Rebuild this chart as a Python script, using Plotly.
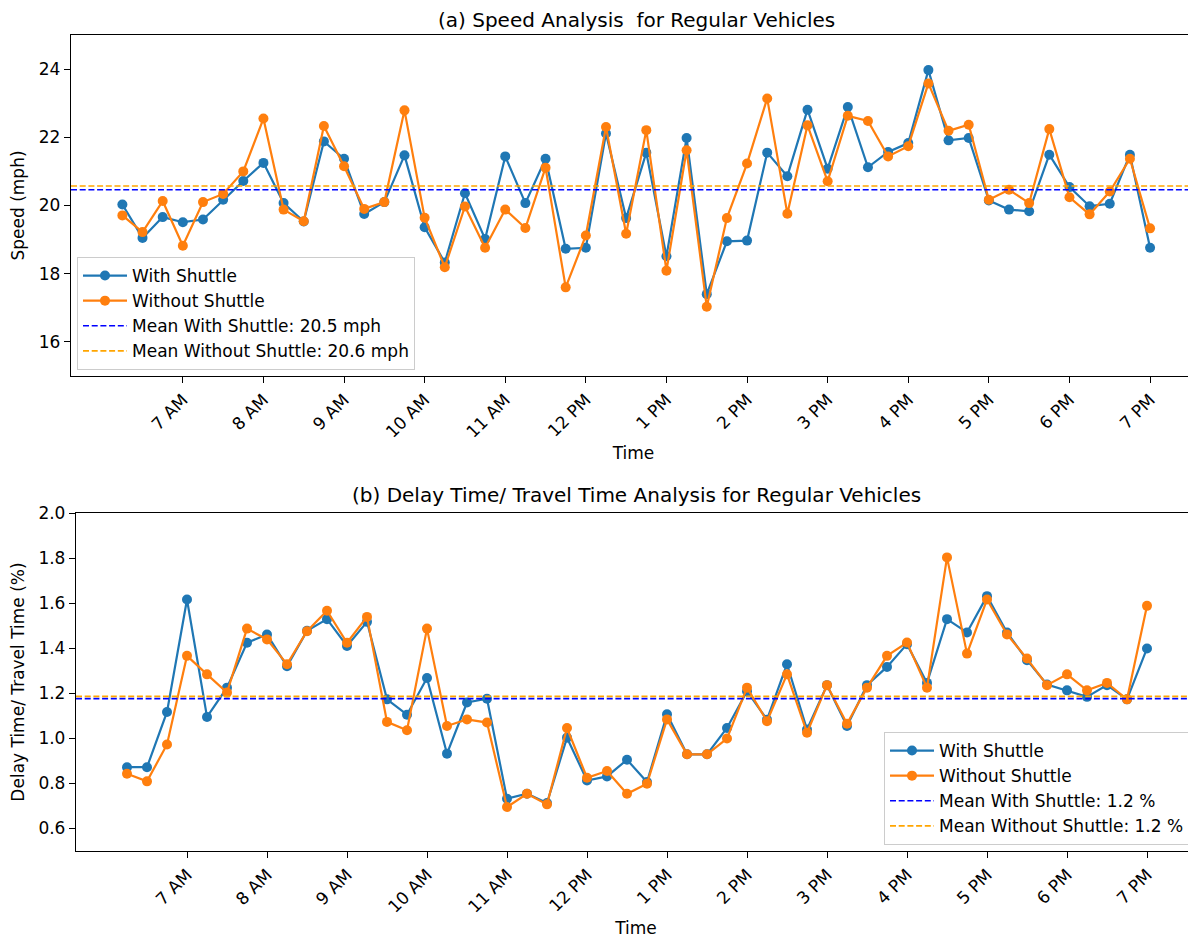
import pandas as pd
import plotly.graph_objects as go

# 15-minute intervals, 6:15 AM to 7 PM
times = pd.date_range("2024-01-01 06:15", "2024-01-01 19:00", freq="15min")
tick_times = pd.date_range("2024-01-01 07:00", "2024-01-01 19:00", freq="1h")
tick_labels = ["7 AM", "8 AM", "9 AM", "10 AM", "11 AM", "12 PM", "1 PM",
               "2 PM", "3 PM", "4 PM", "5 PM", "6 PM", "7 PM"]

speed_with = [
    20.03, 19.05, 19.66, 19.51, 19.59, 20.17, 20.72, 21.25, 20.07, 19.53,
    21.88, 21.37, 19.75, 20.10, 21.47, 19.36, 18.33, 20.36, 19.02, 21.44,
    20.07, 21.37, 18.73, 18.76, 22.11, 19.63, 21.55, 18.51, 21.98, 17.40,
    18.95, 18.97, 21.55, 20.86, 22.81, 21.08, 22.89, 21.12, 21.57, 21.83,
    23.97, 21.91, 21.98, 20.15, 19.88, 19.83, 21.49, 20.54, 19.98, 20.05,
    21.49, 18.76,
]
speed_without = [
    19.71, 19.22, 20.13, 18.82, 20.10, 20.34, 21.00, 22.55, 19.88, 19.54,
    22.33, 21.15, 19.90, 20.10, 22.79, 19.64, 18.19, 19.97, 18.76, 19.88,
    19.34, 21.11, 17.60, 19.12, 22.30, 19.17, 22.21, 18.09, 21.62, 17.03,
    19.63, 21.23, 23.14, 19.76, 22.35, 20.71, 22.63, 22.48, 21.44, 21.74,
    23.58, 22.19, 22.37, 20.17, 20.46, 20.07, 22.24, 20.24, 19.74, 20.41,
    21.37, 19.33,
]
delay_with = [
    0.872, 0.872, 1.117, 1.616, 1.095, 1.225, 1.424, 1.461, 1.320, 1.477,
    1.529, 1.410, 1.517, 1.173, 1.105, 1.268, 0.932, 1.159, 1.176, 0.732,
    0.754, 0.713, 1.003, 0.813, 0.831, 0.905, 0.806, 1.107, 0.929, 0.929,
    1.046, 1.209, 1.083, 1.329, 1.039, 1.236, 1.055, 1.236, 1.317, 1.418,
    1.246, 1.529, 1.470, 1.631, 1.470, 1.347, 1.239, 1.213, 1.184, 1.236,
    1.173, 1.399,
]
delay_without = [
    0.843, 0.809, 0.973, 1.366, 1.284, 1.203, 1.487, 1.439, 1.329, 1.475,
    1.566, 1.424, 1.539, 1.073, 1.036, 1.487, 1.055, 1.084, 1.070, 0.695,
    0.754, 0.707, 1.046, 0.825, 0.855, 0.754, 0.799, 1.084, 0.929, 0.929,
    0.999, 1.225, 1.076, 1.284, 1.025, 1.236, 1.065, 1.225, 1.366, 1.425,
    1.225, 1.803, 1.376, 1.616, 1.461, 1.354, 1.236, 1.284, 1.213, 1.246,
    1.173, 1.588,
]

# mean lines (with, without)
speed_means = [20.46, 20.57]
delay_means = [1.176, 1.186]

W, H = 1196, 940
OFF = 8  # page body margin of the html page
BLUE = "#1f77b4"
ORANGE = "#ff7f0e"
FONT = "DejaVu Sans"
FS = 17


def fx(px):
    return (px - OFF) / W


def fy(py):
    return 1 - (py - OFF) / H


top_range = ["2024-01-01 05:36:45", "2024-01-01 19:34:12"]
bot_range = ["2024-01-01 05:36:45", "2024-01-01 19:36:45"]

fig = go.Figure()

panels = [
    dict(xa="x", ya="y", legend="legend", xr=top_range, means=speed_means,
         with_=speed_with, without=speed_without, unit="mph"),
    dict(xa="x2", ya="y2", legend="legend2", xr=bot_range, means=delay_means,
         with_=delay_with, without=delay_without, unit="%"),
]

for p in panels:
    fig.add_trace(go.Scatter(
        x=times, y=p["with_"], name="With Shuttle", mode="lines+markers",
        line=dict(color=BLUE, width=2.2), marker=dict(size=10, color=BLUE),
        xaxis=p["xa"], yaxis=p["ya"], legend=p["legend"],
    ))
    fig.add_trace(go.Scatter(
        x=times, y=p["without"], name="Without Shuttle", mode="lines+markers",
        line=dict(color=ORANGE, width=2.2), marker=dict(size=10, color=ORANGE),
        xaxis=p["xa"], yaxis=p["ya"], legend=p["legend"],
    ))
    m_with, m_without = p["means"]
    fig.add_trace(go.Scatter(
        x=p["xr"], y=[m_with, m_with], mode="lines",
        name=f"Mean With Shuttle: {m_with:.1f} {p['unit']}",
        line=dict(color="#0000ff", width=1.6, dash="6px,2.7px"),
        xaxis=p["xa"], yaxis=p["ya"], legend=p["legend"],
    ))
    fig.add_trace(go.Scatter(
        x=p["xr"], y=[m_without, m_without], mode="lines",
        name=f"Mean Without Shuttle: {m_without:.1f} {p['unit']}",
        line=dict(color="#ffa500", width=1.6, dash="6px,2.7px"),
        xaxis=p["xa"], yaxis=p["ya"], legend=p["legend"],
    ))

axis_common = dict(
    showline=True, mirror=True, linecolor="black", linewidth=1.3,
    ticks="outside", ticklen=6, tickwidth=1.3, tickcolor="black",
    showgrid=False, zeroline=False, automargin=False,
    tickfont=dict(size=FS, color="black"),
)

legend_common = dict(
    bgcolor="rgba(255,255,255,0.8)", bordercolor="#cccccc", borderwidth=1,
    font=dict(size=FS), itemwidth=44,
)

fig.update_layout(
    width=W, height=H,
    margin=dict(l=0, r=0, t=0, b=0),
    paper_bgcolor="white", plot_bgcolor="white",
    font=dict(family=FONT, size=FS, color="black"),
    xaxis=dict(
        domain=[fx(71), fx(1196)], range=top_range, anchor="y",
        tickvals=tick_times, ticktext=tick_labels, tickangle=-45,
        title=dict(text="Time", standoff=6, font=dict(size=FS)), **axis_common,
    ),
    yaxis=dict(
        domain=[fy(376), fy(35)], range=[15, 25], anchor="x",
        tickvals=[16, 18, 20, 22, 24],
        title=dict(text="Speed (mph)", standoff=10, font=dict(size=FS)),
        **axis_common,
    ),
    xaxis2=dict(
        domain=[fx(76), fx(1196)], range=bot_range, anchor="y2",
        tickvals=tick_times, ticktext=tick_labels, tickangle=-45,
        title=dict(text="Time", standoff=6, font=dict(size=FS)), **axis_common,
    ),
    yaxis2=dict(
        domain=[fy(851), fy(513)], range=[0.5, 2.0], anchor="x2",
        tickvals=[0.6, 0.8, 1.0, 1.2, 1.4, 1.6, 1.8, 2.0], tickformat=".1f",
        title=dict(text="Delay Time/ Travel Time (%)", standoff=10,
                   font=dict(size=FS)),
        **axis_common,
    ),
    legend=dict(x=fx(77), y=fy(370), xanchor="left", yanchor="bottom",
                **legend_common),
    legend2=dict(x=fx(1190), y=fy(845), xanchor="right", yanchor="bottom",
                 **legend_common),
    annotations=[
        dict(text="(a) Speed Analysis\u00a0 for Regular Vehicles",
             x=fx(636), y=fy(20), xref="paper", yref="paper",
             xanchor="center", yanchor="middle",
             showarrow=False, font=dict(size=20)),
        dict(text="(b) Delay Time/ Travel Time Analysis for Regular Vehicles",
             x=fx(636), y=fy(495), xref="paper", yref="paper",
             xanchor="center", yanchor="middle",
             showarrow=False, font=dict(size=20)),
    ],
)

fig.write_html("out.html")
